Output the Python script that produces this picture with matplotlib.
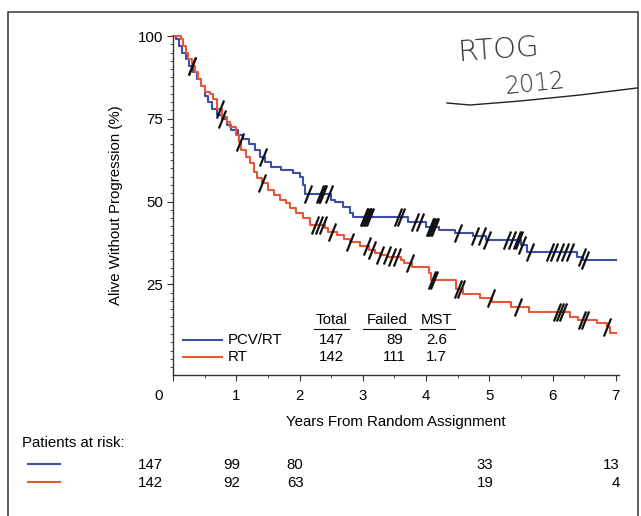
import numpy as np
import matplotlib
matplotlib.use('Agg')
import matplotlib.pyplot as plt
import matplotlib.transforms as mtransforms
from matplotlib.path import Path
from matplotlib.lines import Line2D
from matplotlib.patches import Rectangle
from matplotlib.ticker import MultipleLocator

plt.rcParams['font.family'] = ['Liberation Sans', 'DejaVu Sans']
FS = 10.8

# PCV/RT arm: step times (years) and survival (%) after each step
pcv_t = [0, 0.05, 0.1, 0.15, 0.2, 0.26, 0.32, 0.38, 0.44, 0.5, 0.56, 0.62, 0.7, 0.77,
         0.86, 0.92, 1.02, 1.1, 1.2, 1.3, 1.38, 1.45, 1.55, 1.7, 1.9, 2.0, 2.05, 2.08,
         2.5, 2.56, 2.69, 2.8, 2.85, 3.72, 4.0, 4.2, 4.45, 4.75, 4.95, 5.5, 5.6, 6.38,
         6.48, 7.0]
pcv_s = [100, 99, 97, 95, 93, 91, 89, 87, 85, 82, 80, 78, 76, 75,
         73, 71.5, 70, 69, 67.5, 65.5, 63.5, 62, 60.5, 59.5, 58.6, 57.4, 55, 52.3,
         50.5, 49.8, 48.3, 46.5, 45.3, 43.8, 42.2, 41.5, 40.6, 39.7, 38.5, 36.9, 34.7, 33.2,
         32.3, 32.3]
pcv_cens = [0.3, 0.77, 1.42, 2.13, 2.32, 2.35, 2.37, 2.46, 3.02, 3.04, 3.06, 3.08, 3.12,
            3.55, 3.6, 3.82, 3.9, 4.06, 4.08, 4.1, 4.12, 4.14, 4.5, 4.77, 4.88, 4.96,
            5.28, 5.36, 5.43, 5.47, 5.51, 5.64, 5.96, 6.03, 6.11, 6.19, 6.27, 6.46, 6.51]

# RT arm
rt_t = [0, 0.12, 0.16, 0.2, 0.24, 0.3, 0.35, 0.4, 0.45, 0.5, 0.58, 0.64, 0.7, 0.77,
        0.85, 0.9, 1.0, 1.04, 1.08, 1.15, 1.22, 1.28, 1.33, 1.4, 1.5, 1.6, 1.69, 1.78,
        1.85, 1.95, 2.05, 2.16, 2.4, 2.45, 2.6, 2.7, 2.8, 2.95, 3.1, 3.2, 3.27, 3.4,
        3.6, 3.65, 3.78, 4.05, 4.08, 4.47, 4.58, 4.85, 5.05, 5.35, 5.62, 6.27, 6.4,
        6.7, 6.86, 6.9, 7.0]
rt_s = [100, 99, 97, 95, 93, 91, 89, 87, 85, 83, 82.5, 81, 78, 75.5,
        74, 72.5, 70, 68, 65.5, 63.5, 61.5, 59, 57, 55.5, 53.5, 52, 50.5, 49.5,
        48, 46.5, 45, 43, 42, 40.8, 40, 38.8, 37.8, 36.5, 35.3, 34.4, 33.8, 33.2,
        32.3, 31.4, 30.2, 28.4, 26.3, 23.6, 22, 21, 19.8, 18.1, 16.6, 15, 14.2,
        13.3, 12.1, 10.3, 10.3]
rt_cens = [0.3, 0.75, 1.06, 1.4, 2.24, 2.31, 2.37, 2.51, 2.8, 3.06, 3.14, 3.27, 3.38,
           3.46, 3.54, 3.74, 4.1, 4.12, 4.5, 4.56, 5.02, 5.46, 6.07, 6.12, 6.17,
           6.46, 6.52, 6.86]

# summary table
arm_names = ['PCV/RT', 'RT']
arm_total = [147, 142]
arm_failed = [89, 111]
arm_mst = ['2.6', '1.7']

# patients at risk
risk_years = [0, 1, 2, 5, 7]
risk_pcv = [147, 99, 80, 33, 13]
risk_rt = [142, 92, 63, 19, 4]

blue = '#3d4fa6'
red = '#e9573b'


def surv_at(ts, ss, t):
    idx = np.searchsorted(ts, t, side='right') - 1
    return np.array(ss)[idx]


fig = plt.figure(figsize=(6.41, 5.16), dpi=100)
ax = fig.add_axes([173 / 641, 1 - 375 / 516, 446 / 641, 339 / 516])

ax.step(pcv_t, pcv_s, where='post', color=blue, lw=1.5, clip_on=False)
ax.step(rt_t, rt_s, where='post', color=red, lw=1.5, clip_on=False)

tick_mark = Path([(-0.4, -1), (0.4, 1)], [Path.MOVETO, Path.LINETO])
ax.plot(pcv_cens, surv_at(pcv_t, pcv_s, pcv_cens), ls='none', marker=tick_mark,
        ms=13, mew=1.6, color='#111111', clip_on=False)
ax.plot(rt_cens, surv_at(rt_t, rt_s, rt_cens), ls='none', marker=tick_mark,
        ms=13, mew=1.6, color='#111111', clip_on=False)

ax.set_xlim(0, 7.05)
ax.set_ylim(-2.4, 100)
ax.spines['top'].set_visible(False)
ax.spines['right'].set_visible(False)
for s in ['left', 'bottom']:
    ax.spines[s].set_color('#333333')
    ax.spines[s].set_linewidth(1.0)

ax.set_xticks(range(0, 8))
ax.set_xticklabels(['0', '1', '2', '3', '4', '5', '6', '7'])
ax.xaxis.set_minor_locator(MultipleLocator(0.5))
ax.set_yticks([25, 50, 75, 100])
ax.yaxis.set_minor_locator(MultipleLocator(2.5))
ax.tick_params(axis='both', which='major', labelsize=FS, length=4, width=0.8,
               color='#333333', direction='out')
ax.tick_params(axis='both', which='minor', length=2.5, width=0.6, color='#333333',
               direction='out')
ax.tick_params(axis='x', pad=6)
ax.tick_params(axis='y', pad=3)
# the "0" label sits left of the origin
lab0 = ax.get_xticklabels()[0]
lab0.set_transform(lab0.get_transform() + mtransforms.ScaledTranslation(-14 / 100, 0, fig.dpi_scale_trans))

ax.set_ylabel('Alive Without Progression (%)', fontsize=FS, labelpad=11)
ax.set_xlabel('Years From Random Assignment', fontsize=FS, labelpad=9)

# summary table inside the plot
cols_x = [2.5, 3.38, 4.17]
for x, h in zip(cols_x, ['Total', 'Failed', 'MST']):
    ax.text(x, 14.2, h, ha='center', va='center', fontsize=FS)
ax.plot([2.23, 2.78], [11.4, 11.4], color='#111111', lw=0.8)
ax.plot([3.0, 3.77], [11.4, 11.4], color='#111111', lw=0.8)
ax.plot([3.9, 4.46], [11.4, 11.4], color='#111111', lw=0.8)
row_y = [8.2, 3.0]
for i, (nm, c) in enumerate(zip(arm_names, [blue, red])):
    y = row_y[i]
    ax.plot([0.16, 0.77], [y, y], color=c, lw=1.5)
    ax.text(0.87, y, nm, ha='left', va='center', fontsize=FS)
    ax.text(cols_x[0], y, str(arm_total[i]), ha='center', va='center', fontsize=FS)
    ax.text(3.5, y, str(arm_failed[i]), ha='center', va='center', fontsize=FS)
    ax.text(cols_x[2], y, arm_mst[i], ha='center', va='center', fontsize=FS)

# patients at risk table
fig.text(22 / 641, 1 - 443 / 516, 'Patients at risk:', ha='left', va='center', fontsize=FS)
fig.add_artist(Line2D([28 / 641, 60 / 641], [1 - 464 / 516, 1 - 464 / 516], color=blue, lw=1.5))
fig.add_artist(Line2D([28 / 641, 60 / 641], [1 - 482 / 516, 1 - 482 / 516], color=red, lw=1.5))
blend = mtransforms.blended_transform_factory(ax.transData, fig.transFigure)
for yr, a, b in zip(risk_years, risk_pcv, risk_rt):
    dx = -10 if yr == 0 else 4
    tr = blend + mtransforms.ScaledTranslation(dx / 100, 0, fig.dpi_scale_trans)
    ax.text(yr, 1 - 465 / 516, str(a), ha='right', va='center', fontsize=FS, transform=tr, clip_on=False)
    ax.text(yr, 1 - 483 / 516, str(b), ha='right', va='center', fontsize=FS, transform=tr, clip_on=False)

# handwritten note
fig.text(498 / 641, 1 - 50 / 516, 'RTOG', ha='center', va='center', fontsize=21,
         color='#333333', rotation=4, family=['DejaVu Sans'], fontweight='light')
fig.text(535 / 641, 1 - 84 / 516, '2012', ha='center', va='center', fontsize=17,
         color='#333333', rotation=6, family=['DejaVu Sans'], fontweight='light')
hx = [447, 470, 520, 580, 637]
hy = [103, 105, 101, 95, 88]
fig.add_artist(Line2D([v / 641 for v in hx], [1 - v / 516 for v in hy], color='#222222', lw=1.0))

# frame around the whole picture
fig.add_artist(Rectangle((8 / 641, -0.01), 630 / 641, 1 - 12 / 516 + 0.01,
                         transform=fig.transFigure, fill=False, edgecolor='#444444', lw=1.2))

fig.savefig('out.png', dpi=100)
